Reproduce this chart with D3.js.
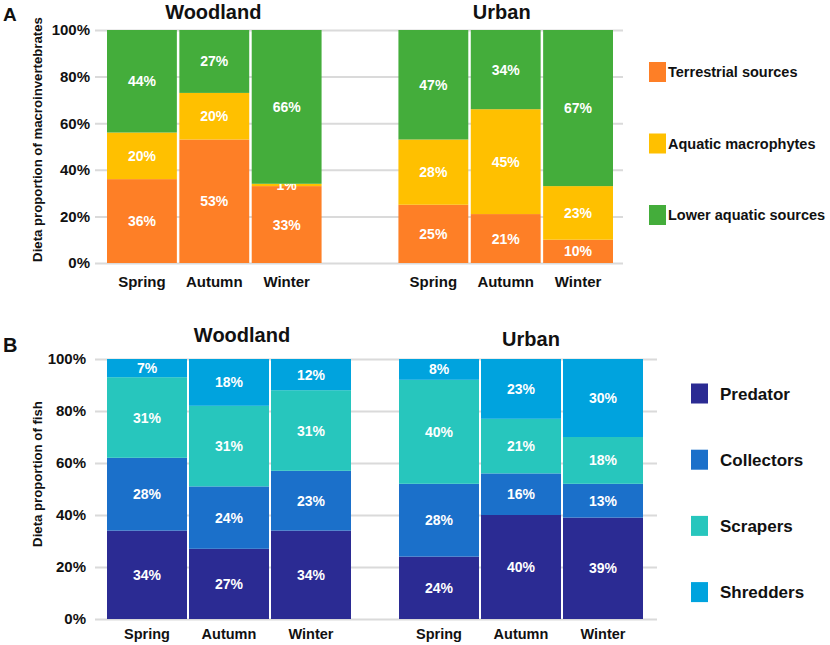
<!DOCTYPE html>
<html>
<head>
<meta charset="utf-8">
<script src="https://cdn.jsdelivr.net/npm/d3@7"></script>
<style>
  body { margin: 0; background: #fff; }
  svg { display: block; font-family: "Liberation Sans", Arial, sans-serif; font-weight: bold; }
</style>
</head>
<body>
<div id="chart"></div>
<script>
(function () {
  'use strict';

  // ---- data ----
  var sites = ['Woodland', 'Urban'];
  var seasons = ['Spring', 'Autumn', 'Winter'];
  var yTicks = [0, 0.2, 0.4, 0.6, 0.8, 1];

  // Panel A: macroinvertebrates (% per season, Woodland then Urban)
  var sourcesA = ['Terrestrial sources', 'Aquatic macrophytes', 'Lower aquatic sources'];
  var terrestrial = [36, 53, 33, 25, 21, 10];
  var macrophytes = [20, 20, 1, 28, 45, 23];
  var lowerAquatic = [44, 27, 66, 47, 34, 67];
  var colorsA = ['#fe7f26', '#ffc000', '#44ad3b'];

  // Panel B: fish (% per season, Woodland then Urban)
  var sourcesB = ['Predator', 'Collectors', 'Scrapers', 'Shredders'];
  var predator = [34, 27, 34, 24, 40, 39];
  var collectors = [28, 24, 23, 28, 16, 13];
  var scrapers = [31, 31, 31, 40, 21, 18];
  var shredders = [7, 18, 12, 8, 23, 30];
  var colorsB = ['#2b2b93', '#1b70ca', '#27c6bd', '#00a3de'];

  var W = 830, H = 645;
  var svg = d3.select('#chart').append('svg').attr('width', W).attr('height', H);

  function buildRows(series) {
    var rows = [];
    sites.forEach(function (site, si) {
      seasons.forEach(function (season, ki) {
        var r = { site: site, season: season };
        series.forEach(function (s) { r[s.key] = s.values[si * 3 + ki]; });
        rows.push(r);
      });
    });
    return rows;
  }

  function drawPanel(opt) {
    var g = svg.append('g');
    var keys = opt.series.map(function (s) { return s.key; });
    var rows = buildRows(opt.series);

    var y = d3.scaleLinear().domain([0, 1]).range([opt.y0, opt.y1]);
    var xSite = d3.scaleBand().domain(sites).range(opt.barRange).paddingInner(opt.sitePad);
    var xSeason = d3.scaleBand().domain(seasons).range([0, xSite.bandwidth()]).paddingInner(opt.seasonPad);
    var color = d3.scaleOrdinal().domain(keys).range(opt.colors);

    // grid + tick labels
    var axis = g.append('g').attr('transform', 'translate(' + opt.gridLeft + ',0)')
      .call(d3.axisLeft(y).tickValues(yTicks).tickFormat(d3.format('.0%'))
        .tickSizeInner(-(opt.gridRight - opt.gridLeft)).tickSizeOuter(0).tickPadding(opt.tickPad));
    axis.select('.domain').remove();
    axis.selectAll('.tick line').attr('stroke', '#dadada').attr('stroke-width', 2);
    axis.selectAll('.tick text').attr('fill', '#111').attr('font-size', 15)
      .attr('font-family', '"Liberation Sans", Arial, sans-serif').attr('font-weight', 'bold');

    // stacked bars
    var stacked = d3.stack().keys(keys).value(function (d, k) { return d[k] / 100; })(rows);
    var layer = g.selectAll('.layer').data(stacked).enter().append('g').attr('fill', function (d) { return color(d.key); });
    function bx(d) { return xSite(d.data.site) + xSeason(d.data.season); }
    layer.selectAll('rect').data(function (d) { return d; }).enter().append('rect')
      .attr('x', bx)
      .attr('y', function (d) { return y(d[1]); })
      .attr('width', xSeason.bandwidth())
      .attr('height', function (d) { return y(d[0]) - y(d[1]); });

    // segment labels
    layer.selectAll('text').data(function (d) { return d; }).enter().append('text')
      .attr('x', function (d) { return bx(d) + xSeason.bandwidth() / 2; })
      .attr('y', function (d) { return y((d[0] + d[1]) / 2); })
      .attr('dy', '0.36em').attr('text-anchor', 'middle')
      .attr('fill', '#fff').attr('font-size', 14)
      .text(function (d) { return Math.round((d[1] - d[0]) * 100) + '%'; });

    // season labels and site titles
    sites.forEach(function (site) {
      seasons.forEach(function (season) {
        g.append('text').attr('x', xSite(site) + xSeason(season) + xSeason.bandwidth() / 2)
          .attr('y', opt.seasonY).attr('text-anchor', 'middle')
          .attr('font-size', opt.seasonSize).attr('fill', '#111').text(season);
      });
      g.append('text').attr('x', xSite(site) + xSite.bandwidth() / 2 + (opt.titleShift[site] || 0))
        .attr('y', opt.titleY[site]).attr('text-anchor', 'middle')
        .attr('font-size', 20).attr('fill', '#111').text(site);
    });

    // y title
    var ym = (opt.y0 + opt.y1) / 2 + opt.yTitleShift;
    g.append('text').attr('transform', 'translate(' + opt.yTitleX + ',' + ym + ') rotate(-90)')
      .attr('text-anchor', 'middle').attr('font-size', 13.2).attr('fill', '#111').text(opt.yTitle);

    // panel letter
    g.append('text').attr('x', 3).attr('y', opt.letterY).attr('font-size', opt.letterSize)
      .attr('fill', '#111').text(opt.letter);

    // legend
    var leg = g.selectAll('.leg').data(opt.series).enter().append('g')
      .attr('transform', function (d, i) { return 'translate(' + opt.legX + ',' + (opt.legY + i * opt.legStep) + ')'; });
    leg.append('rect').attr('x', 0).attr('y', -10).attr('width', 17).attr('height', 20)
      .attr('fill', function (d) { return color(d.key); });
    leg.append('text').attr('x', opt.legTextDx).attr('dy', '0.36em')
      .attr('font-size', opt.legSize).attr('fill', '#111').text(function (d) { return d.key; });
  }

  drawPanel({
    letter: 'A', letterY: 21, letterSize: 19,
    series: sourcesA.map(function (k, i) { return { key: k, values: [terrestrial, macrophytes, lowerAquatic][i] }; }),
    colors: colorsA,
    y0: 263, y1: 30,
    gridLeft: 95, gridRight: 623, tickPad: 5,
    barRange: [107, 613], sitePad: 77 / 292, seasonPad: 2.5 / 72.5,
    seasonY: 287, seasonSize: 15,
    titleY: { Woodland: 19, Urban: 19 }, titleShift: { Woodland: -1, Urban: -4 },
    yTitle: 'Dieta proportion of macroinvertebrates', yTitleX: 42, yTitleShift: -7,
    legX: 649, legY: 72, legStep: 71.5, legTextDx: 19, legSize: 14.5
  });

  drawPanel({
    letter: 'B', letterY: 352, letterSize: 20,
    series: sourcesB.map(function (k, i) { return { key: k, values: [predator, collectors, scrapers, shredders][i] }; }),
    colors: colorsB,
    y0: 619, y1: 359,
    gridLeft: 95, gridRight: 657, tickPad: 9,
    barRange: [107, 643], sitePad: 48 / 292, seasonPad: 2 / 82,
    seasonY: 639, seasonSize: 14.5,
    titleY: { Woodland: 342, Urban: 346 }, titleShift: { Woodland: 13, Urban: 10 },
    yTitle: 'Dieta proportion of fish', yTitleX: 42, yTitleShift: -15,
    legX: 691, legY: 393.5, legStep: 66.2, legTextDx: 29, legSize: 17
  });
})();
</script>
</body>
</html>
